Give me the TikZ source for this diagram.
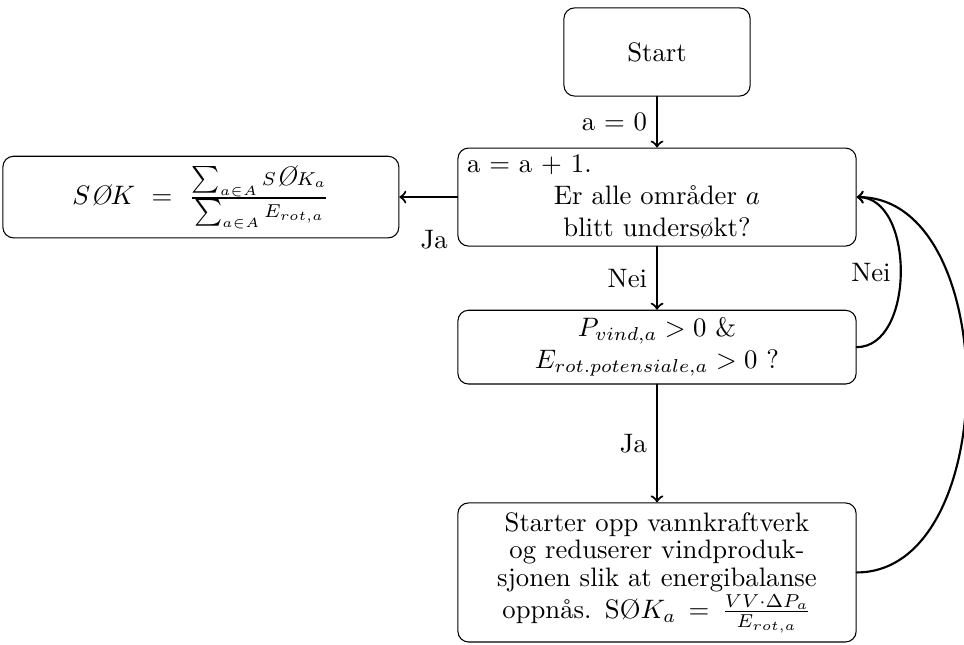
\documentclass[tikz,border=0pt]{standalone}
\usetikzlibrary{positioning}

\begin{document}
\begin{tikzpicture}[line cap=round,
    box/.style={draw, rounded corners, align=center, minimum width=5.24cm},
    flow/.style={->, thick}]

    % Frame
    \useasboundingbox (0,0) rectangle (12.684,-8.474);

    % Boxes
    \node[box, minimum width=2.45cm, minimum height=1.16cm] (start) at (8.645,-0.684) {Start};
    \node[box, text width=5.0cm, inner ysep=2.5pt, minimum height=1.29cm, below=0.67cm of start] (check)
        {\raggedright a = a + 1.\par\centering Er alle områder $a$\\ blitt undersøkt?};
    \node[box, minimum height=0.97cm, inner ysep=2.8pt, below=0.83cm of check] (cond)
        {$P_{vind,a} > 0$ \&\\ $E_{rot.potensiale,a} > 0$ ?};
    \node[box, text width=5.0cm, minimum height=1.83cm, below=1.55cm of cond] (hydro)
        {\baselineskip=10.3pt Starter opp vannkraftverk\\ og reduserer vindproduk-\\
         sjonen slik at energibalanse\\ oppnås. SØ$K_a = \frac{VV\cdot\Delta P_a}{E_{rot,a}}$};
    \node[box, minimum width=5.21cm, minimum height=1.04cm, left=0.763cm of check] (total)
        {$S\textit{Ø}K \ = \ \frac{\sum_{a\in A} S\textit{Ø}K_a}{\sum_{a\in A} E_{rot,a}}$};

    % Arrows
    \draw[flow] (start) -- node[left] {a = 0} (check);
    \draw[flow] (check) -- node[left] {Nei} (cond);
    \draw[flow] (cond) -- node[left] {Ja} (hydro);
    \draw[flow] (check) -- node[pos=0.4, below=0.3cm] {Ja} (total);

    % Loops back
    \draw[flow] (cond.east) to[out=0, in=0] node[left] {Nei} (check.east);
    \draw[flow] (hydro.east) to[out=0, in=0] (check.east);
\end{tikzpicture}
\end{document}
